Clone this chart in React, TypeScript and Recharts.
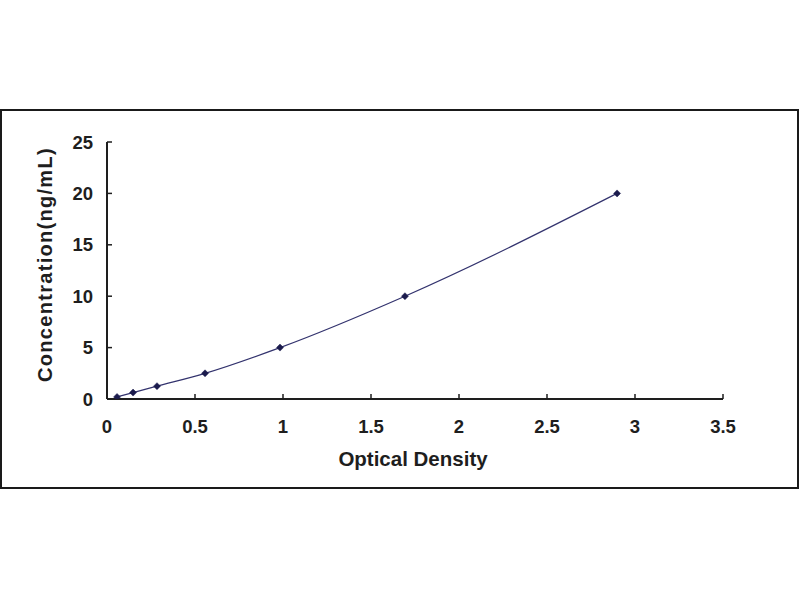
import React from "react";
import { LineChart, Line, XAxis, YAxis, Label } from "recharts";

const opticalDensity = [0.057, 0.148, 0.284, 0.557, 0.983, 1.693, 2.898];
const concentration = [0.2, 0.625, 1.25, 2.5, 5, 10, 20];
const xTicks = [0, 0.5, 1, 1.5, 2, 2.5, 3, 3.5];
const yTicks = [0, 5, 10, 15, 20, 25];

const data = opticalDensity.map((od, i) => ({ od, conc: concentration[i] }));

const FONT = "'Liberation Sans', Arial, sans-serif";
const INK = "#1e1e1e";

const Diamond = (props: any) => {
  const { cx, cy } = props;
  if (cx == null || cy == null) return null;
  const r = 3.5;
  return (
    <path
      d={`M${cx},${cy - r}L${cx + r},${cy}L${cx},${cy + r}L${cx - r},${cy}Z`}
      fill="#1b1b4d"
      stroke="#1b1b4d"
      strokeWidth={0.5}
    />
  );
};

export default function App() {
  const tickStyle = { fontFamily: FONT, fontWeight: 700, fontSize: 18.5, fill: INK };
  return (
    <div
      style={{
        position: "fixed",
        left: 0,
        top: 0,
        width: 800,
        height: 600,
        background: "#fff",
        overflow: "hidden",
      }}
    >
      <div
        style={{
          position: "absolute",
          left: 0,
          top: 109,
          width: 795,
          height: 376,
          border: "2px solid #1a1a1a",
          pointerEvents: "none",
        }}
      />
      <div style={{ position: "absolute", left: 0, top: 0 }}>
        <LineChart
          width={800}
          height={600}
          data={data}
          margin={{ top: 142, right: 77, bottom: 81, left: -17 }}
        >
          <XAxis
            type="number"
            dataKey="od"
            domain={[0, 3.5]}
            ticks={xTicks}
            tickFormatter={(v: number) => String(v)}
            height={120}
            axisLine={{ stroke: INK, strokeWidth: 2 }}
            tickLine={{ stroke: INK, strokeWidth: 1.5 }}
            tickSize={-5}
            tickMargin={26}
            tick={tickStyle}
            allowDataOverflow
          >
            <Label
              value="Optical Density"
              position="center"
              dx={-2}
              style={{ fontFamily: FONT, fontWeight: 700, fontSize: 20.5, fill: INK }}
            />
          </XAxis>
          <YAxis
            type="number"
            dataKey="conc"
            domain={[0, 25]}
            ticks={yTicks}
            width={124}
            axisLine={{ stroke: INK, strokeWidth: 2 }}
            tickLine={{ stroke: INK, strokeWidth: 1.5 }}
            tickSize={-5}
            tickMargin={19}
            tick={tickStyle}
            allowDataOverflow
          >
            <Label
              value="Concentration(ng/mL)"
              position="center"
              angle={-90}
              dy={-6}
              style={{
                fontFamily: FONT,
                fontWeight: 700,
                fontSize: 20,
                letterSpacing: 1.3,
                fill: INK,
                textAnchor: "middle",
              }}
            />
          </YAxis>
          <Line
            type="monotone"
            dataKey="conc"
            stroke="#33336e"
            strokeWidth={1.2}
            dot={<Diamond />}
            activeDot={false}
            isAnimationActive={false}
          />
        </LineChart>
      </div>
    </div>
  );
}
